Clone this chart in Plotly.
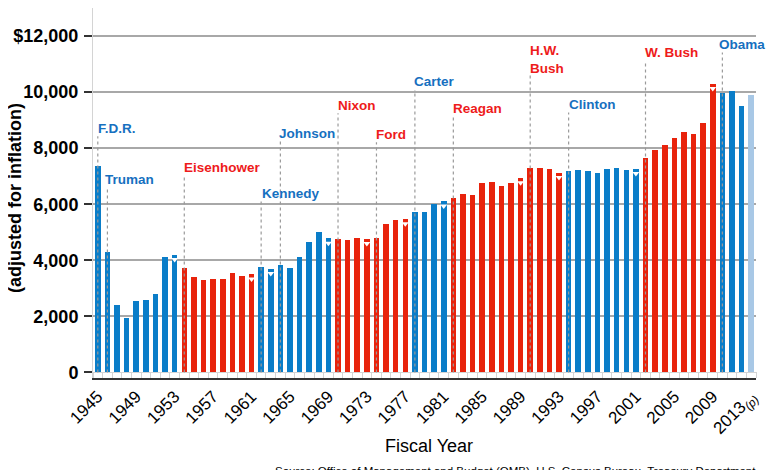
import plotly.graph_objects as go

years = list(range(1945, 2014))
outlays = [7350, 4300, 2400, 1950, 2550, 2600, 2800, 4100, 4200,
           3720, 3410, 3290, 3340, 3340, 3530, 3450, 3500,
           3770, 3700, 3830, 3740, 4110, 4640, 5010, 4780,
           4760, 4710, 4780, 4770, 4780, 5310, 5450, 5470,
           5720, 5720, 5990, 6110,
           6230, 6370, 6330, 6740, 6810, 6640, 6770, 6940,
           7300, 7290, 7250, 7120,
           7190, 7205, 7170, 7130, 7240, 7280, 7230, 7265,
           7645, 7930, 8110, 8350, 8590, 8490, 8880, 10300,
           9960, 10030, 9520, 9880]
projected = [2013]

pres_names = ["F.D.R.", "Truman", "Eisenhower", "Kennedy", "Johnson", "Nixon", "Ford",
              "Carter", "Reagan", "H.W.<br>Bush", "Clinton", "W. Bush", "Obama"]
pres_start = [1945, 1946, 1954, 1962, 1964, 1970, 1974, 1978, 1982, 1990, 1994, 2002, 2010]
pres_party = ["D", "D", "R", "D", "D", "R", "R", "D", "R", "R", "D", "R", "D"]
term_end_marks = [1953, 1961, 1963, 1969, 1973, 1977, 1981, 1989, 1993, 2001, 2009]

tick_years = list(range(1945, 2014, 4))
tick_text = [str(y) for y in tick_years[:-1]] + ["2013<sub><i>(p)</i></sub>"]
y_ticks = [0, 2000, 4000, 6000, 8000, 10000, 12000]
y_text = ["0", "2,000", "4,000", "6,000", "8,000", "10,000", "$12,000"]

# where the president labels sit (layout only)
label_y = [8716, 6896, 7299, 6397, 8537, 9536, 8502, 10368, 9429, 11160, 9561, 11402, 11702]
label_shift = [-2, -4, -2, -1, -3, -2, -2, -3, -2, -2, -2, -3, -5]

blue = "#0a7dc8"
red = "#e8230c"
light_blue = "#a8c8e6"
txt_blue = "#1670c0"
txt_red = "#ee1b1b"
font = "Liberation Sans, Arial, sans-serif"


def partyFor(year):
    p = pres_party[0]
    for s, pt in zip(pres_start, pres_party):
        if year >= s:
            p = pt
    return p


bar_colors = []
for yr in years:
    if yr in projected:
        bar_colors.append(light_blue)
    elif partyFor(yr) == "D":
        bar_colors.append(blue)
    else:
        bar_colors.append(red)

fig = go.Figure()

fig.add_trace(go.Bar(x=years, y=outlays, marker=dict(color=bar_colors, line=dict(width=0)),
                     width=0.58, hoverinfo="x+y"))

# dotted leader lines from each first year up to the label
lx = []
ly = []
for s, top, n in zip(pres_start, label_y, pres_names):
    lines = n.count("<br>") + 1
    lx += [s, s, None]
    ly += [0, top - 290 - (lines - 1) * 280, None]
fig.add_trace(go.Scatter(x=lx, y=ly, mode="lines",
                         line=dict(color="#9a9a9a", width=1.2, dash="dot"),
                         hoverinfo="skip"))

# white notches on last-year bars
mark_y = [outlays[years.index(y)] - 170 for y in term_end_marks]
fig.add_trace(go.Scatter(x=term_end_marks, y=mark_y, mode="markers",
                         marker=dict(symbol="triangle-down", size=6, color="white",
                                     line=dict(width=0)),
                         hoverinfo="skip"))

for n, s, ly_, sh, pt in zip(pres_names, pres_start, label_y, label_shift, pres_party):
    fig.add_annotation(x=s, y=ly_, text="<b>" + n + "</b>", showarrow=False,
                       xanchor="left", yanchor="middle", xshift=sh, align="left",
                       font=dict(family=font, size=13.5,
                                 color=txt_blue if pt == "D" else txt_red))

# title sits above the visible area (only its descenders peek in the original)
fig.add_annotation(x=(168 - 93) / 663, y=1.0068, xref="paper", yref="paper",
                   text="<b>Federal Outlays per Capita, 1945-2013</b>", showarrow=False,
                   xanchor="left", yanchor="bottom",
                   font=dict(family=font, size=26, color="black"))
fig.add_annotation(x=(15 - 93) / 663, y=0.4865, xref="paper", yref="paper",
                   text="<b>(adjusted for inflation)</b>", textangle=-90, showarrow=False,
                   xanchor="center", yanchor="middle",
                   font=dict(family=font, size=18, color="black"))
fig.add_annotation(x=0.5068, y=-0.1838, xref="paper", yref="paper",
                   text="Fiscal Year", showarrow=False, xanchor="center", yanchor="middle",
                   font=dict(family=font, size=18, color="black"))
fig.add_annotation(x=1.003, y=-0.2297, xref="paper", yref="paper",
                   text="Source: Office of Management and Budget (OMB), U.S. Census Bureau, Treasury Department",
                   showarrow=False, xanchor="right", yanchor="top",
                   font=dict(family=font, size=11.5, color="black"))

# page body adds an 8px offset, so the plot box is shifted back by that much
fig.update_layout(
    width=780, height=470,
    margin=dict(l=85, r=32, t=0, b=100),
    paper_bgcolor="white", plot_bgcolor="white",
    showlegend=False, bargap=0,
    xaxis=dict(range=[1944.5, 2013.5], tickvals=tick_years, ticktext=tick_text,
               tickangle=-45, ticks="", showgrid=False, automargin=False,
               showline=True, linecolor="#333333", linewidth=2,
               tickfont=dict(family=font, size=17, color="black"),
               minor=dict(tick0=1944.5, dtick=1, ticks="inside", ticklen=6,
                          tickcolor="#d4d4d4", tickwidth=1)),
    yaxis=dict(range=[-200, 13000], tickvals=y_ticks,
               ticktext=["<b>" + t + "</b>" for t in y_text],
               ticks="outside", ticklen=8, tickwidth=2, tickcolor="#333333",
               ticklabelstandoff=2,
               showgrid=True, gridcolor="#a8a8a8", gridwidth=1.5,
               zeroline=True, zerolinecolor="#d4d4d4", zerolinewidth=1,
               showline=True, linecolor="#d4d4d4", linewidth=1, automargin=False,
               tickfont=dict(family=font, size=18, color="black")),
)

fig.write_html("out.html")
